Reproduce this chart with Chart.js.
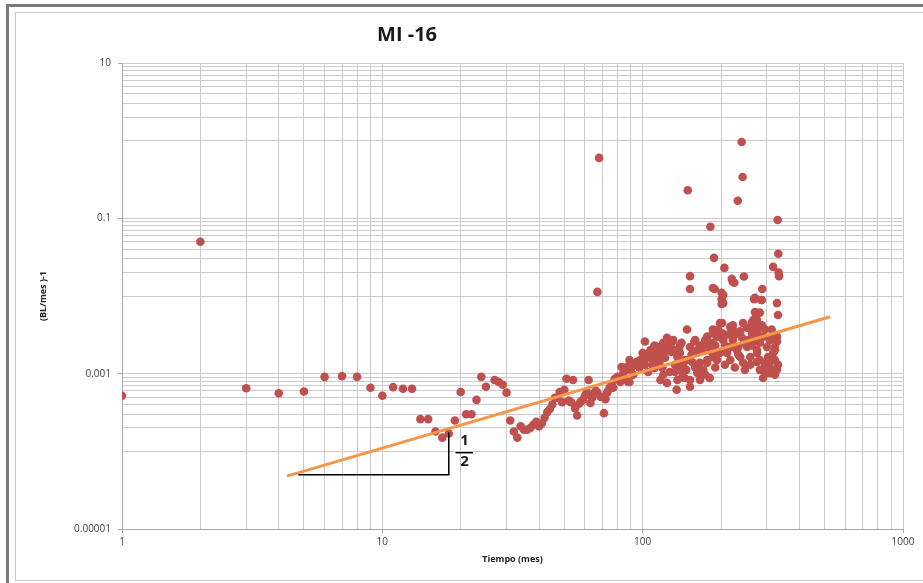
<!DOCTYPE html>
<html>
<head>
<meta charset="utf-8">
<title>MI -16</title>
<script src="https://cdn.jsdelivr.net/npm/chart.js@4.4.0/dist/chart.umd.min.js"></script>
<style>
    html, body { margin: 0; padding: 0; background: #fff; }
    #wrap { position: relative; width: 923px; height: 583px; overflow: hidden; }
    .frame-outer { position: absolute; left: 6px; top: 4px; right: -20px; bottom: -20px; border: 3px solid #7a7a7a; }
    .frame-inner { position: absolute; left: 15px; top: 12px; right: -20px; bottom: 2px; border: 1px solid #c8c8c8; }
    #chart { position: absolute; left: 0; top: 0; }
</style>
</head>
<body>
<div id="wrap">
    <div class="frame-outer"></div>
    <div class="frame-inner"></div>
    <canvas id="chart" width="923" height="583"></canvas>
</div>
<script>
(function () {
    'use strict';

    var chartTitle = 'MI -16';

    // monthly water/oil indicator: time (months) and value
    var months = [
        1, 2, 3, 4, 5, 6, 7, 8, 9, 10, 11, 12, 13, 14, 15, 16, 17, 18, 19, 20,
        21, 22, 23, 24, 25, 27, 28, 29, 30, 31, 32, 33, 34, 35, 36, 37, 38, 39, 40, 41,
        42, 43, 44, 45, 46, 47, 48, 49, 50, 51, 52, 53, 54, 55, 56, 57, 58, 59, 60, 61,
        62, 63, 64, 65, 66, 67, 67, 68, 69, 70, 71, 72, 73, 74, 75, 75, 76, 77, 78, 80,
        82, 83, 84, 85, 86, 87, 88, 89, 89, 90, 92, 93, 95, 97, 98, 100, 101, 102, 102, 104,
        105, 107, 109, 110, 110, 111, 113, 114, 116, 117, 117, 119, 120, 120, 122, 124, 124, 125, 127, 128,
        129, 130, 131, 133, 135, 136, 136, 138, 139, 139, 141, 142, 143, 143, 145, 145, 147, 148, 148, 149,
        152, 152, 152, 152, 152, 154, 156, 156, 158, 160, 162, 162, 162, 166, 166, 169, 171, 177, 177, 177,
        177, 181, 182, 185, 186, 186, 186, 186, 186, 188, 189, 193, 193, 198, 198, 201, 201, 201, 202, 202,
        204, 204, 204, 206, 211, 211, 217, 217, 217, 220, 222, 222, 222, 222, 225, 230, 232, 233, 237, 237,
        240, 242, 243, 243, 245, 247, 252, 252, 259, 263, 263, 266, 266, 268, 270, 270, 275, 275, 275, 275,
        275, 282, 282, 282, 285, 287, 288, 290, 290, 290, 300, 300, 300, 303, 308, 308, 317, 317, 317, 317,
        322, 322, 322, 328, 328, 328, 330, 331, 331, 332, 333, 334,
        104, 109, 111, 117, 119, 122, 127, 133, 133, 139, 152, 159, 159, 166, 166, 174, 174, 181, 190, 190,
        195, 207, 207, 213, 226, 226, 233, 241, 247, 254, 259, 263, 270, 277, 282, 287, 295, 295, 308, 313,
        322, 328
    ];
    var values = [
        0.00052, 0.05, 0.00065, 0.00056, 0.00059, 0.00091, 0.00093, 0.00091, 0.00066, 0.00052,
        0.00067, 0.00064, 0.00064, 0.00026, 0.00026, 0.00018, 0.00015, 0.00017, 0.00025, 0.00058,
        0.0003, 0.0003, 0.00046, 0.00091, 0.00068, 0.00083, 0.00078, 0.00072, 0.00057, 0.00025,
        0.00018, 0.00015, 0.00021, 0.00019, 0.00019, 0.0002, 0.00022, 0.00024, 0.00021, 0.00023,
        0.00027, 0.00032, 0.00035, 0.0004, 0.00049, 0.00049, 0.00058, 0.00043, 0.00062, 0.00086,
        0.00045, 0.00043, 0.00083, 0.00036, 0.00029, 0.00041, 0.00044, 0.00046, 0.00052, 0.00058,
        0.00083, 0.00042, 0.00049, 0.00055, 0.0006, 0.00057, 0.0113, 0.6, 0.0005, 0.0005,
        0.00031, 0.00047, 0.00057, 0.00062, 0.00066, 0.00068, 0.00072, 0.00066, 0.00085, 0.00091,
        0.00078, 0.00122, 0.00098, 0.00088, 0.0011, 0.00122, 0.00078, 0.00078, 0.0015, 0.00115,
        0.00097, 0.0013, 0.00142, 0.0012, 0.0015, 0.00185, 0.0014, 0.0026, 0.0013, 0.0017,
        0.00105, 0.002, 0.0015, 0.00164, 0.002, 0.00118, 0.0014, 0.0022, 0.0018, 0.0022,
        0.0015, 0.0012, 0.0025, 0.00097, 0.0016, 0.0029, 0.00076, 0.0027, 0.00105, 0.0022,
        0.0019, 0.0026, 0.0027, 0.0013, 0.00062, 0.00164, 0.00083, 0.0021, 0.00122, 0.00185,
        0.0025, 0.00091, 0.00102, 0.0013, 0.0015, 0.00088, 0.00112, 0.0037, 0.0015, 0.23,
        0.0123, 0.018, 0.0015, 0.00068, 0.0022, 0.00175, 0.00185, 0.00138, 0.0026, 0.0012,
        0.002, 0.0019, 0.00102, 0.00102, 0.00138, 0.0021, 0.00112, 0.0015, 0.0022, 0.003,
        0.00138, 0.00088, 0.078, 0.0025, 0.00185, 0.0037, 0.0127, 0.0033, 0.00164, 0.031,
        0.0123, 0.0015, 0.003, 0.0045, 0.00185, 0.0079, 0.011, 0.0091, 0.0045, 0.0033,
        0.0103, 0.0081, 0.0027, 0.023, 0.00185, 0.0019, 0.004, 0.0022, 0.0015, 0.0166,
        0.0152, 0.0042, 0.0037, 0.0027, 0.0148, 0.002, 0.168, 0.0022, 0.0035, 0.00164,
        0.96, 0.34, 0.0045, 0.00138, 0.0178, 0.0025, 0.0022, 0.0039, 0.00164, 0.0046,
        0.0033, 0.0049, 0.004, 0.0091, 0.0095, 0.0062, 0.0049, 0.00185, 0.0033, 0.002,
        0.00142, 0.0061, 0.0025, 0.0015, 0.0089, 0.0089, 0.0123, 0.003, 0.00112, 0.00088,
        0.0022, 0.00102, 0.00138, 0.00164, 0.00102, 0.00122, 0.0237, 0.0032, 0.00185, 0.0015,
        0.0022, 0.002, 0.00097, 0.0081, 0.003, 0.0026, 0.095, 0.0057, 0.0013, 0.035,
        0.02, 0.018,
        0.0016, 0.0013, 0.0023, 0.00083, 0.00175, 0.002, 0.0023, 0.002, 0.00105, 0.0023,
        0.00083, 0.0027, 0.0012, 0.0023, 0.00083, 0.0027, 0.00097, 0.002, 0.0023, 0.0012,
        0.0037, 0.0023, 0.0013, 0.0032, 0.0032, 0.0012, 0.00175, 0.0029, 0.00112, 0.0027,
        0.0013, 0.0023, 0.0027, 0.0039, 0.00112, 0.0042, 0.0037, 0.0013, 0.0027, 0.0037,
        0.0015, 0.00112
    ];

    // fitted trend and the slope triangle
    var trendX = [4.3, 525];
    var trendY = [0.000048, 0.0054];
    var triX = [4.75, 18, 18];
    var triY = [0.00005, 0.00005, 0.000175];
    var slopeBarX = [19.1, 22.3];
    var slopeBarY = [0.000096, 0.000096];
    var slopeText = ['1', '2'];
    var slopeTextX = 20.7;
    var slopeTextY = [0.000136, 0.000073];

    // axis ticks (gridlines) and the ones that carry a label
    var xTicks = [1, 2, 3, 4, 5, 6, 7, 8, 9, 10, 20, 30, 40, 50, 60, 70, 80, 90,
        100, 200, 300, 400, 500, 600, 700, 800, 900, 1000];
    var xLabelled = [1, 10, 100, 1000];
    var yTicks = [0.00001, 0.0001, 0.0002, 0.0003, 0.0004, 0.0005, 0.0006, 0.0007, 0.0008, 0.0009,
        0.001, 0.01, 0.02, 0.03, 0.04, 0.05, 0.06, 0.07, 0.08, 0.09,
        0.1, 1, 2, 3, 4, 5, 6, 7, 8, 9, 10];
    var yLabelled = [0.00001, 0.001, 0.1, 10];
    var yLabelText = ['0.00001', '0.001', '0.1', '10'];

    var red = '#C0504D';
    var orange = '#F79646';
    var gridColor = '#cacacf';
    var tickFont = { family: '"Open Sans", sans-serif', size: 10 };

    var points = months.map(function (m, i) { return { x: m, y: values[i] }; });
    var trend = trendX.map(function (x, i) { return { x: x, y: trendY[i] }; });
    var tri = triX.map(function (x, i) { return { x: x, y: triY[i] }; });
    var bar = slopeBarX.map(function (x, i) { return { x: x, y: slopeBarY[i] }; });

    var textPlugin = {
        id: 'textLabels',
        afterDraw: function (chart) {
            var ctx = chart.ctx;
            var a = chart.chartArea;
            var xs = chart.scales.x;
            var ys = chart.scales.y;
            ctx.save();
            ctx.fillStyle = '#1a1a1a';
            ctx.textAlign = 'center';
            ctx.textBaseline = 'middle';
            ctx.font = 'bold 20px "Open Sans", sans-serif';
            ctx.fillText(chartTitle, a.left + a.width * 0.365, a.top - 28);
            ctx.font = 'bold 15px "Open Sans", sans-serif';
            for (var i = 0; i < slopeText.length; i++) {
                ctx.fillText(slopeText[i], xs.getPixelForValue(slopeTextX), ys.getPixelForValue(slopeTextY[i]));
            }
            ctx.restore();
        }
    };

    new Chart(document.getElementById('chart'), {
        type: 'scatter',
        data: {
            datasets: [
                {
                    type: 'line',
                    data: trend,
                    borderColor: orange,
                    borderWidth: 3,
                    pointRadius: 0,
                    order: 0
                },
                {
                    type: 'line',
                    data: tri,
                    borderColor: '#000',
                    borderWidth: 1.5,
                    pointRadius: 0,
                    order: 1
                },
                {
                    type: 'line',
                    data: bar,
                    borderColor: '#000',
                    borderWidth: 1.5,
                    pointRadius: 0,
                    order: 1
                },
                {
                    data: points,
                    backgroundColor: red,
                    borderColor: red,
                    borderWidth: 0,
                    pointRadius: 4.3,
                    order: 2
                }
            ]
        },
        options: {
            responsive: false,
            animation: false,
            layout: { padding: { top: 63, right: 20, left: 0, bottom: 0 } },
            plugins: { legend: { display: false }, tooltip: { enabled: false } },
            scales: {
                x: {
                    type: 'logarithmic',
                    min: 1,
                    max: 1000,
                    afterBuildTicks: function (s) {
                        s.ticks = xTicks.map(function (v) { return { value: v }; });
                    },
                    afterFit: function (s) { s.height = 54; },
                    border: { color: '#a8a8a8' },
                    grid: {
                        color: gridColor,
                        tickLength: 4,
                        tickColor: function (c) {
                            return c.tick && xLabelled.indexOf(c.tick.value) >= 0 ? '#a8a8a8' : 'rgba(0,0,0,0)';
                        }
                    },
                    ticks: {
                        autoSkip: false,
                        maxRotation: 0,
                        padding: 3,
                        color: '#404040',
                        font: tickFont,
                        callback: function (v) {
                            return xLabelled.indexOf(v) >= 0 ? String(v) : '';
                        }
                    },
                    title: {
                        display: true,
                        text: 'Tiempo (mes)',
                        color: '#222',
                        font: { family: '"Open Sans", sans-serif', size: 9, weight: 'bold' },
                        padding: { top: 0, bottom: 18 }
                    }
                },
                y: {
                    type: 'logarithmic',
                    min: 0.00001,
                    max: 10,
                    afterBuildTicks: function (s) {
                        s.ticks = yTicks.map(function (v) { return { value: v }; });
                    },
                    afterFit: function (s) { s.width = 122; },
                    border: { color: '#a8a8a8' },
                    grid: {
                        color: gridColor,
                        tickLength: 4,
                        tickColor: function (c) {
                            return c.tick && yLabelled.indexOf(c.tick.value) >= 0 ? '#a8a8a8' : 'rgba(0,0,0,0)';
                        }
                    },
                    ticks: {
                        autoSkip: false,
                        padding: 7,
                        color: '#404040',
                        font: tickFont,
                        callback: function (v) {
                            var k = yLabelled.indexOf(v);
                            return k >= 0 ? yLabelText[k] : '';
                        }
                    },
                    title: {
                        display: true,
                        text: '(BL/mes )-1',
                        color: '#222',
                        font: { family: '"Open Sans", sans-serif', size: 9, weight: 'bold' },
                        padding: { top: 38, bottom: 0 }
                    }
                }
            }
        },
        plugins: [textPlugin]
    });
})();
</script>
</body>
</html>
